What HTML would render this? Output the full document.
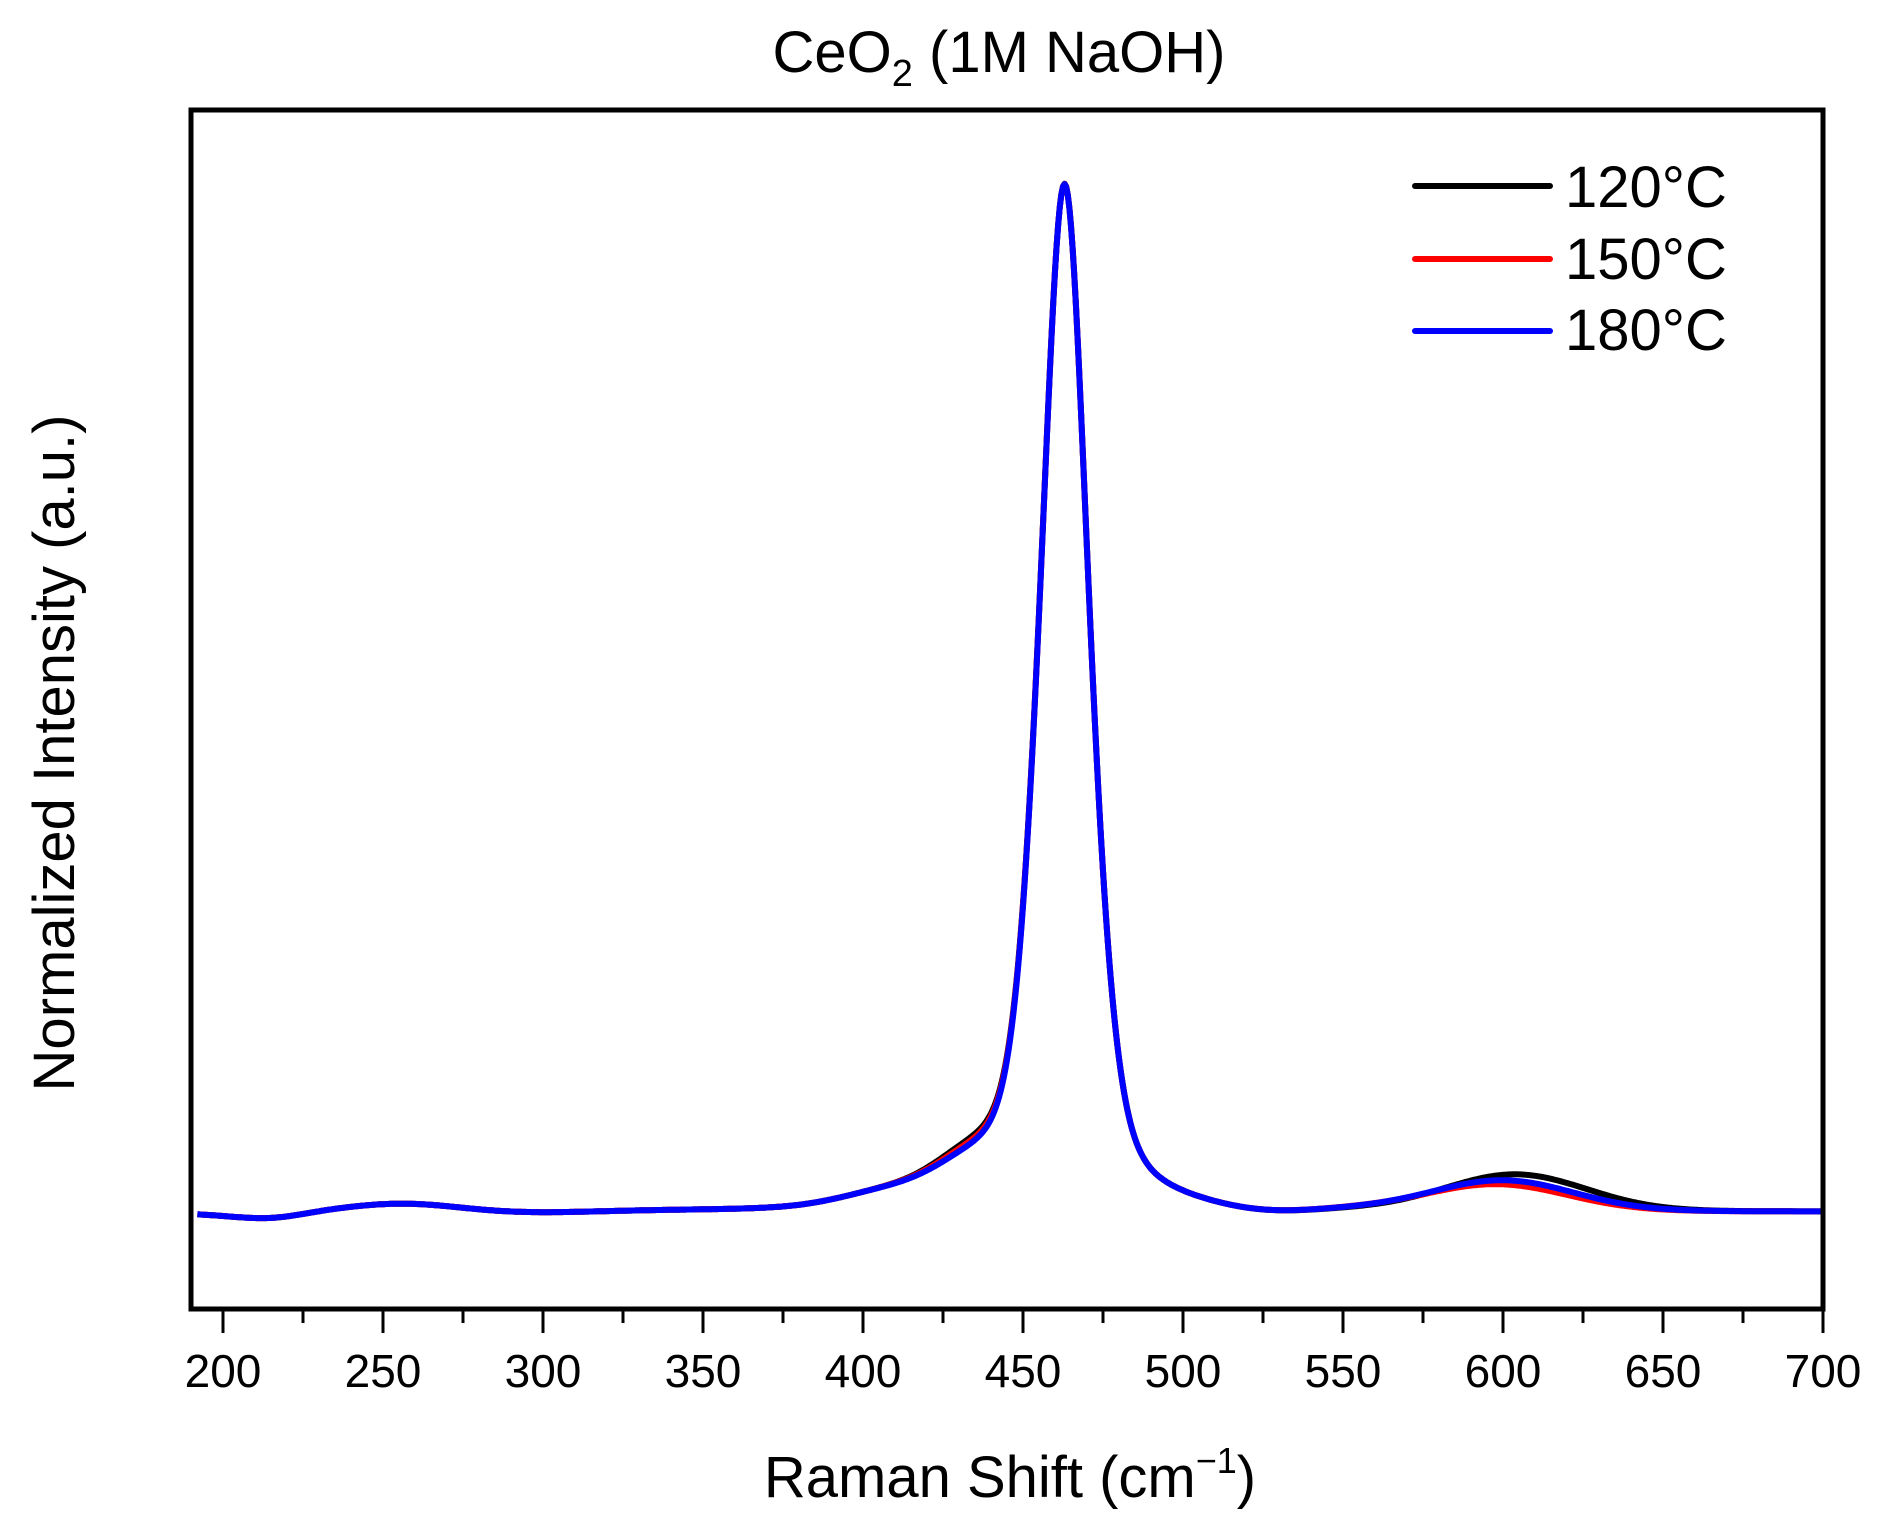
<!DOCTYPE html>
<html><head><meta charset="utf-8"><style>
html,body{margin:0;padding:0;background:#fff;}
svg{display:block;font-family:"Liberation Sans",Arial,sans-serif;}
</style></head><body>
<svg id="s" width="1899" height="1536" viewBox="0 0 1899 1536" xmlns="http://www.w3.org/2000/svg">
<defs><clipPath id="c"><rect x="191" y="110" width="1632" height="1199"/></clipPath></defs>
<text x="999" y="72" font-size="58" text-anchor="middle">CeO<tspan font-size="38" dy="14">2</tspan><tspan dy="-14"> (1M NaOH)</tspan></text>
<g id="curves" clip-path="url(#c)" fill="none" stroke-width="6" stroke-linejoin="round"></g>
<rect x="191" y="110" width="1632" height="1199" fill="none" stroke="#000" stroke-width="5"/>
<g id="ticks" stroke="#000" stroke-width="3"></g>
<g id="labels" font-size="46" text-anchor="middle"></g>
<text x="1010" y="1497" font-size="58" text-anchor="middle">Raman Shift (cm<tspan font-size="36" dy="-24">−1</tspan><tspan dy="24">)</tspan></text>
<text transform="translate(74,753) rotate(-90)" font-size="58" text-anchor="middle">Normalized Intensity (a.u.)</text>
<g stroke-width="6" stroke-linecap="round">
<line x1="1415" y1="186" x2="1550" y2="186" stroke="#000"/>
<line x1="1415" y1="259" x2="1550" y2="259" stroke="#f00"/>
<line x1="1415" y1="331" x2="1550" y2="331" stroke="#00f"/>
</g>
<g font-size="58"><text x="1565" y="207">120°C</text><text x="1565" y="279">150°C</text><text x="1565" y="350">180°C</text></g>
</svg>
<script>
var X=function(x){return 223+(x-200)*3.2;};
var t=document.getElementById('ticks'),l=document.getElementById('labels'),h='',lh='';
for(var v=200;v<=700;v+=25){var M=v%50==0;h+='<line x1="'+X(v)+'" y1="1309" x2="'+X(v)+'" y2="'+(M?1333:1323)+'"/>';
if(M)lh+='<text x="'+X(v)+'" y="1387">'+v+'</text>';}
t.innerHTML=h;l.innerHTML=lh;
function g(x,c,s){return Math.exp(-0.5*Math.pow((x-c)/s,2));}
function curve(b6,c6,sh){
 var p='';
 for(var x=192;x<=700;x+=0.5){
  var L=1/(1+Math.pow((x-463)/8.5,2)),G=Math.exp(-Math.LN2*Math.pow((x-463)/9.5,2));
  var pk=0.45*L+0.55*G;
  var d=pk*1026+0.03*1026*g(x,435,12)*sh+14*g(x,410,16)
   +b6*g(x,c6,22)
   +5*Math.sin(x/18)*Math.exp(-Math.pow((x-240)/60,2))
   -4*g(x,215,10)+3*g(x,260,15)-6*g(x,525,15);
  var y=1212-d;
  p+=(p?'L':'M')+X(x).toFixed(1)+' '+y.toFixed(1);
 }
 return p;
}
document.getElementById('curves').innerHTML=
 '<path stroke="#000" d="'+curve(36,604,1.1)+'"/>'+
 '<path stroke="#f00" d="'+curve(26,598,1.0)+'"/>'+
 '<path stroke="#00f" d="'+curve(30,600,0.9)+'"/>';
</script>
</body></html>
